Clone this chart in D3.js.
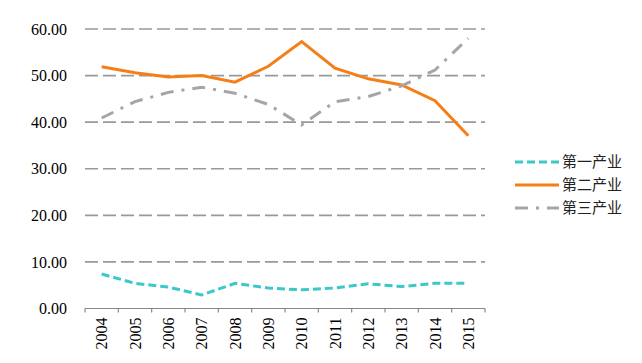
<!DOCTYPE html>
<html>
<head>
<meta charset="utf-8">
<script src="https://cdn.jsdelivr.net/npm/d3@7"></script>
<style>
  body { margin: 0; background: #fff; }
  svg { display: block; }
  .num { font-family: "Liberation Serif", "Times New Roman", serif; font-size: 16px; fill: #000; }
  .leg { font-family: "Noto Sans CJK SC", sans-serif; font-size: 15px; fill: #222; }
</style>
</head>
<body>
<svg id="chart" width="642" height="363"></svg>
<script>
const years = ["2004", "2005", "2006", "2007", "2008", "2009", "2010", "2011", "2012", "2013", "2014", "2015"];
const primary = [7.4, 5.4, 4.6, 2.9, 5.4, 4.4, 4.0, 4.4, 5.3, 4.7, 5.4, 5.4];
const secondary = [51.9, 50.6, 49.7, 50.0, 48.6, 52.0, 57.3, 51.6, 49.3, 48.0, 44.6, 37.1];
const tertiary = [40.9, 44.4, 46.4, 47.5, 46.2, 43.8, 39.4, 44.4, 45.5, 47.8, 51.2, 58.0];
const yTicks = [0, 10, 20, 30, 40, 50, 60];

const series = [
  { name: "第一产业", values: primary, color: "#3cc8c8", dash: "8,4" },
  { name: "第二产业", values: secondary, color: "#f57f17", dash: null },
  { name: "第三产业", values: tertiary, color: "#a5a5a5", dash: "13,8,3,8" },
];

const svg = d3.select("#chart");
const x = d3.scaleBand().domain(years).range([85, 485]);
const y = d3.scaleLinear().domain([0, 60]).range([308.5, 29]);

// horizontal dashed gridlines
svg.append("g")
  .selectAll("line")
  .data(yTicks.filter((d) => d > 0))
  .join("line")
  .attr("x1", 85)
  .attr("x2", 485)
  .attr("y1", (d) => y(d))
  .attr("y2", (d) => y(d))
  .attr("stroke", "#999")
  .attr("stroke-width", 1.6)
  .attr("stroke-dasharray", "13,5");

// y labels
svg.append("g")
  .selectAll("text")
  .data(yTicks)
  .join("text")
  .attr("class", "num")
  .attr("x", 67)
  .attr("y", (d) => y(d))
  .attr("dy", "0.35em")
  .attr("text-anchor", "end")
  .text((d) => d.toFixed(2));

// x axis
const xAxis = svg.append("g").attr("transform", `translate(0,${y(0)})`);
xAxis.append("line")
  .attr("x1", 85).attr("x2", 485)
  .attr("stroke", "#888").attr("stroke-width", 1.2);
xAxis.selectAll(".tick")
  .data([...years.map((d) => x(d)), 485])
  .join("line")
  .attr("x1", (d) => d).attr("x2", (d) => d)
  .attr("y1", 0).attr("y2", 4)
  .attr("stroke", "#888").attr("stroke-width", 1.2);
xAxis.selectAll("text")
  .data(years)
  .join("text")
  .attr("class", "num")
  .attr("transform", (d) => `translate(${x(d) + x.bandwidth() / 2},9) rotate(-90)`)
  .attr("dy", "0.35em")
  .attr("text-anchor", "end")
  .text((d) => d);

// lines
const line = d3.line()
  .x((d, i) => x(years[i]) + x.bandwidth() / 2)
  .y((d) => y(d));

svg.append("g")
  .selectAll("path")
  .data(series)
  .join("path")
  .attr("d", (s) => line(s.values))
  .attr("fill", "none")
  .attr("stroke", (s) => s.color)
  .attr("stroke-width", 3)
  .attr("stroke-dasharray", (s) => s.dash);

// legend
const legend = svg.append("g")
  .selectAll("g")
  .data(series)
  .join("g")
  .attr("transform", (d, i) => `translate(515,${162 + i * 23})`);
legend.append("line")
  .attr("x1", 0).attr("x2", 44)
  .attr("stroke", (s) => s.color)
  .attr("stroke-width", 3)
  .attr("stroke-dasharray", (s) => s.dash);
legend.append("text")
  .attr("class", "leg")
  .attr("x", 47)
  .attr("dy", "0.35em")
  .text((s) => s.name);
</script>
</body>
</html>
